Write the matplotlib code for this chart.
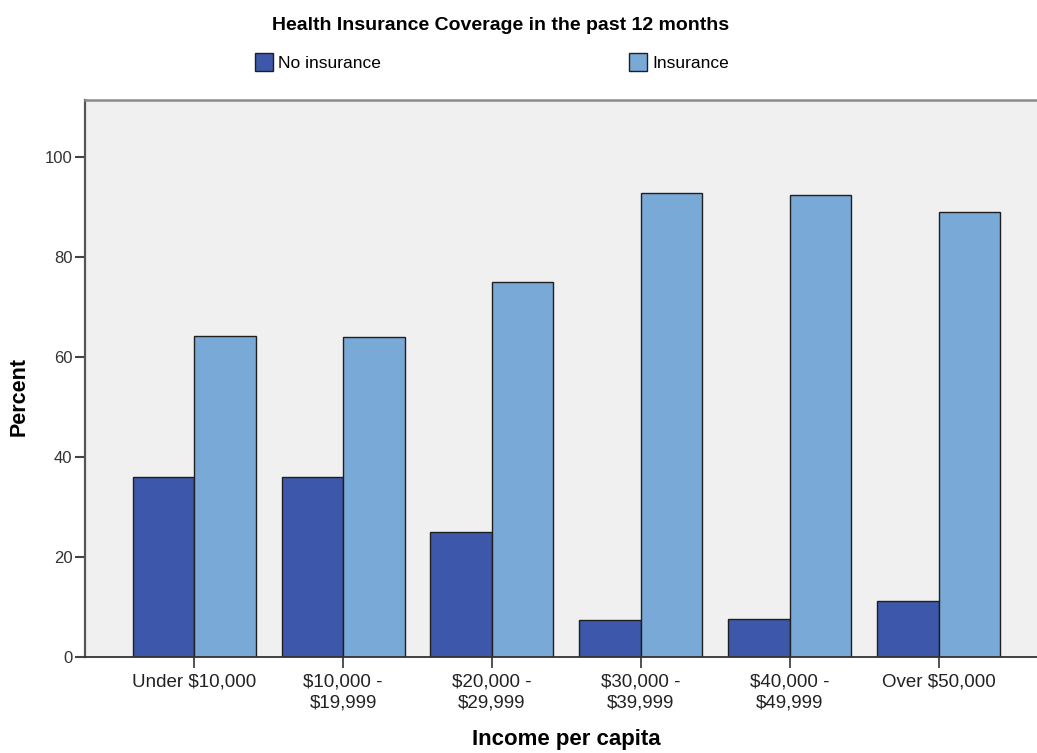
import numpy as np
import matplotlib
matplotlib.use('Agg')
import matplotlib.pyplot as plt
from matplotlib.patches import Patch

plt.rcParams['font.family'] = ['Liberation Sans', 'DejaVu Sans']

# data
categories = ['Under $10,000', '$10,000 -\n$19,999', '$20,000 -\n$29,999',
              '$30,000 -\n$39,999', '$40,000 -\n$49,999', 'Over $50,000']
no_insurance = [35.9, 36.0, 25.0, 7.3, 7.6, 11.1]
insurance = [64.1, 64.0, 75.0, 92.7, 92.4, 88.9]
series_names = ['No insurance', 'Insurance']
yticks = [0, 20, 40, 60, 80, 100]

dark = '#3D57AB'
light = '#79A9D6'
edge = '#1f1f1f'

fig = plt.figure(figsize=(10.37, 7.53), dpi=100)
ax = fig.add_axes([85/1037, 1 - 657/753, 1 - 85/1037, (657 - 100)/753])
ax.set_facecolor('#F0F0F0')

x = np.arange(len(categories))
w = 0.413
ax.bar(x - w/2, no_insurance, w, color=dark, edgecolor=edge, linewidth=1.0)
ax.bar(x + w/2, insurance, w, color=light, edgecolor=edge, linewidth=1.0)

ax.set_xlim(-0.733, 5.66)
ax.set_ylim(0, 111.3)
ax.set_xticks(x)
ax.set_xticklabels(categories, fontsize=13.5, linespacing=1.32, color='#222222')
ax.set_yticks(yticks)
ax.set_yticklabels([str(v) for v in yticks], fontsize=12, color='#333333')
ax.tick_params(axis='y', length=7, width=1.5, color='#444444', pad=2)
ax.tick_params(axis='x', length=8, width=1.2, color='#333333', pad=4)

ax.spines['right'].set_visible(False)
ax.spines['left'].set_color('#555555')
ax.spines['left'].set_linewidth(1.6)
ax.spines['top'].set_color('#8a8a8a')
ax.spines['top'].set_linewidth(1.8)
ax.spines['bottom'].set_color('#333333')
ax.spines['bottom'].set_linewidth(1.3)

ax.set_xlabel('Income per capita', fontsize=16, fontweight='bold')
ax.xaxis.set_label_coords((566 - 85)/952, -(729 - 657)/557)
ax.set_ylabel('Percent', fontsize=15.5, fontweight='bold')
ax.yaxis.set_label_coords(-(55)/952, (657 - 397)/557)

fig.text(501/1037, 1 - 26/753, 'Health Insurance Coverage in the past 12 months',
         ha='center', va='center', fontsize=14, fontweight='bold')

handles = [Patch(facecolor=dark, edgecolor=edge, linewidth=1.0),
           Patch(facecolor=light, edgecolor=edge, linewidth=1.0)]
fig.legend(handles, series_names, loc='center left',
           bbox_to_anchor=(255/1037, 1 - 62/753), ncol=2, frameon=False,
           fontsize=12.5, handlelength=1.03, handleheight=1.2,
           handletextpad=0.3, columnspacing=14.3, borderpad=0,
           borderaxespad=0)

fig.savefig('out.png', dpi=100)
